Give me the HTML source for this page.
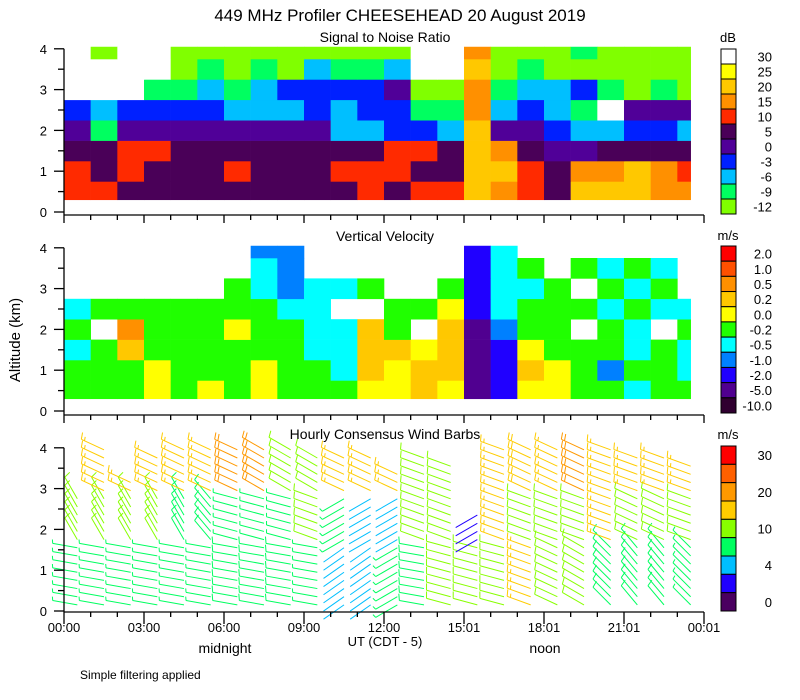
<!DOCTYPE html>
<html><head><meta charset="utf-8"><style>
html,body{margin:0;padding:0;background:#fff;}
svg{display:block;font-family:"Liberation Sans",sans-serif;}
</style></head><body>
<svg id="chart" width="800" height="700" viewBox="0 0 800 700" xmlns="http://www.w3.org/2000/svg">
<rect width="800" height="700" fill="#fff"/>
<text x="400" y="21" font-size="17" text-anchor="middle">449 MHz Profiler CHEESEHEAD 20 August 2019</text>
<text x="385" y="42" font-size="14" text-anchor="middle">Signal to Noise Ratio</text>
<text x="385" y="241" font-size="14" text-anchor="middle">Vertical Velocity</text>
<text x="385" y="439" font-size="14" text-anchor="middle">Hourly Consensus Wind Barbs</text>
<text transform="translate(20,340) rotate(-90)" font-size="15" text-anchor="middle">Altitude (km)</text>
<text x="385" y="646" font-size="13" text-anchor="middle">UT  (CDT - 5)</text>
<text x="225" y="653" font-size="14" text-anchor="middle">midnight</text>
<text x="545" y="653" font-size="14" text-anchor="middle">noon</text>
<text x="80" y="679" font-size="12">Simple filtering applied</text>
<g id="layers"></g>
</svg>
<script>
// ---- data ----
const hours = [0,1,2,3,4,5,6,7,8,9,10,11,12,13,14,15,16,17,18,19,20,21,22,23];
const altBandsLow = [0.3,0.75,1.25,1.75,2.25,2.75,3.25,3.75];
const altBandsHigh = [0.75,1.25,1.75,2.25,2.75,3.25,3.75,4.05];
// SNR color index (0=-12 ... 10=30 dB), rows bottom->top
const snrRow0 = [6,6,5,5,5,5,5,5,5,5,5,6,5,6,6,8,7,6,5,8,8,8,7,7];
const snrRow1 = [6,5,6,5,5,5,6,5,5,5,6,6,6,5,5,8,8,6,5,7,7,8,7,6];
const snrRow2 = [5,5,6,6,5,5,5,5,5,5,5,5,6,6,5,8,7,5,4,4,5,5,5,5];
const snrRow3 = [4,1,4,4,4,4,4,4,4,4,2,2,3,3,2,8,4,4,3,2,2,3,3,2];
const snrRow4 = [3,2,3,3,3,3,2,2,2,3,2,3,3,1,1,7,2,3,2,1,10,4,4,4];
const snrRow5 = [10,10,10,1,1,2,1,2,3,3,3,3,4,0,0,7,1,2,2,3,1,0,1,0];
const snrRow6 = [10,10,10,10,0,1,0,1,0,2,1,1,2,10,10,8,0,1,0,0,0,0,0,0];
const snrRow7 = [10,0,10,10,0,0,0,0,0,0,0,0,0,10,10,7,0,0,0,1,0,0,0,0];
// Vertical velocity index (0=-10 ... 10=2.0 m/s), -1 = no data
const vvRow0 = [5,5,5,6,5,6,5,6,5,5,5,6,6,7,6,1,2,6,6,5,5,4,5,5];
const vvRow1 = [5,5,5,6,5,5,5,6,5,5,4,7,6,7,7,1,2,7,6,5,3,5,5,4];
const vvRow2 = [4,5,7,5,5,5,5,5,5,4,4,7,7,6,7,1,2,6,5,5,5,4,5,4];
const vvRow3 = [5,-1,8,5,5,5,6,5,5,4,4,7,5,-1,7,1,3,5,5,-1,5,4,-1,5];
const vvRow4 = [4,5,5,5,5,5,5,5,4,4,-1,-1,5,5,6,2,4,5,5,5,4,5,4,4];
const vvRow5 = [-1,-1,-1,-1,-1,-1,5,4,3,4,4,5,-1,-1,5,2,4,4,5,-1,5,4,5,-1];
const vvRow6 = [-1,-1,-1,-1,-1,-1,-1,4,3,-1,-1,-1,-1,-1,-1,2,4,5,-1,5,4,5,4,-1];
const vvRow7 = [-1,-1,-1,-1,-1,-1,-1,3,3,-1,-1,-1,-1,-1,-1,2,4,-1,-1,-1,-1,-1,-1,-1];
// Wind (m/s, met deg) by band
const windSpeedLow  = [8,8,8,8,8,8,9,9,9,8,4,4,8,9,11,12,13,16,14,13,9,9,9,8];
const windSpeedMid  = [11,11,11,10,9,9,8,8,8,10,8,4,4,10,12,3,16,12,12,12,16,12,13,12];
const windSpeedHigh = [17,16,16,17,18,17,20,20,12,12,16,17,16,13,13,14,17,19,18,22,17,18,18,17];
const windDirLow  = [280,280,280,280,280,280,280,280,280,280,235,235,240,280,285,285,285,290,295,300,315,320,320,315];
const windDirMid  = [330,330,330,330,330,320,285,285,285,290,240,240,240,290,290,240,290,290,290,290,290,295,295,290];
const windDirHigh = [295,295,295,295,295,295,295,300,300,300,295,295,295,290,290,290,290,295,295,295,290,290,290,290];
const windTop = [2.9,4.0,3.2,3.9,4.0,4.0,4.0,4.0,4.0,3.8,3.8,3.8,3.4,3.9,3.6,2.4,4.0,4.0,4.0,4.0,4.0,3.9,3.9,3.7];
const snrTicks = ["30","25","20","15","10","5","0","-3","-6","-9","-12"];
const vvTicks = ["2.0","1.0","0.5","0.2","0.0","-0.2","-0.5","-1.0","-2.0","-5.0","-10.0"];
const windTicks = ["30","","20","","10","","4","","0"];
const timeLabels = ["00:00","03:00","06:00","09:00","12:00","15:01","18:01","21:01","00:01"];

const snrRows=[snrRow0,snrRow1,snrRow2,snrRow3,snrRow4,snrRow5,snrRow6,snrRow7];
const vvRows=[vvRow0,vvRow1,vvRow2,vvRow3,vvRow4,vvRow5,vvRow6,vvRow7];
const snrColors=["#80ff00","#00ff60","#00bfff","#0020ff","#500098","#4a0058","#ff2a00","#ff9000","#ffc800","#ffff00","#ffffff"];
const vvColors=["#300030","#500090","#2000ff","#0080ff","#00ffff","#20ff00","#ffff00","#ffc800","#ff9000","#ff5000","#ff0000"];
const windColors=["#4a0060","#2000ff","#00bfff","#00ff60","#88ff00","#ffcc00","#ff9900","#ff6000","#ff0000"];

const NS="http://www.w3.org/2000/svg";
const root=document.getElementById('layers');
function mk(tag,attrs,parent){const e=document.createElementNS(NS,tag);for(const k in attrs)e.setAttribute(k,attrs[k]);(parent||root).appendChild(e);return e;}
const X0=64, PXH=640/24, XEND=64+23.5*PXH;
function xScale(h){return X0+h*PXH;}
const panels=[{base:212,axis:215},{base:411,axis:415},{base:611,axis:612}];
function yScale(p,a){return panels[p].base-a*40.8;}

function heat(p,rows,colors,name){
  const g=mk('g',{});
  
  
  rows.forEach((row,ri)=>{
    row.forEach((v,hi)=>{
      if(v<0)return;
      const x1=xScale(hours[hi]), x2=Math.min(xScale(hours[hi]+1),XEND);
      const y1=Math.max(yScale(p,altBandsHigh[ri]),yScale(p,4.05)), y2=yScale(p,altBandsLow[ri]);
      const r=mk('rect',{x:x1,y:y1,width:x2-x1+0.3,height:y2-y1+0.3,fill:colors[v]},g);
      
      
    });
  });
}
heat(0,snrRows,snrColors,'snr-heatmap');
heat(1,vvRows,vvColors,'vv-heatmap');

function windColor(s){const b=[2,4,7,10,15,20,25,30];let i=0;while(i<b.length&&s>=b[i])i++;return windColors[i];}
const wg=mk('g',{});


hours.forEach((h,hi)=>{
  for(let a=0.15;a<=windTop[hi]+0.001;a+=0.2){
    let s,d;
    if(a<1.6){s=windSpeedLow[hi];d=windDirLow[hi];}
    else if(a<2.8){s=windSpeedMid[hi];d=windDirMid[hi];}
    else {s=windSpeedHigh[hi];d=windDirHigh[hi];}
    const sx=xScale(h+0.5), sy=yScale(2,a);
    const t=d*Math.PI/180, ux=Math.sin(t), uy=-Math.cos(t), L=25;
    const ex=sx+ux*L, ey=sy+uy*L;
    const c=windColor(s);
    let p=`M${sx},${sy}L${ex},${ey}`;
    let rem=s, k=0;
    while(rem>=4.5&&k<4){
      const full=rem>=9;
      const bl=full?7:4;
      const bx=ex-ux*k*3.5, by=ey-uy*k*3.5;
      p+=`M${bx},${by}l${(-uy*0.95+ux*0.25)*bl},${(ux*0.95+uy*0.25)*bl}`;
      rem-=full?10:5;k++;
    }
    const e=mk('path',{d:p,stroke:c,'stroke-width':1,fill:'none'},wg);
    
    
  }
});

// axes
for(let p=0;p<3;p++){
  const g=mk('g',{stroke:'#000','stroke-width':1.3,fill:'none'});
  
  
  const top=yScale(p,4), ay=panels[p].axis;
  mk('line',{x1:X0,y1:top,x2:X0,y2:ay},g);
  mk('line',{x1:X0,y1:ay,x2:xScale(24),y2:ay},g);
  for(let a=0;a<=4;a+=0.5){
    const y=yScale(p,a), maj=(a%1===0);
    mk('line',{x1:X0-(maj?10:6),y1:y,x2:X0,y2:y},g);
    if(maj){const t=mk('text',{x:X0-17,y:y+5,'font-size':13,'text-anchor':'end',fill:'#000',stroke:'none'},g);t.textContent=a;
      
      }
  }
  for(let h=0;h<=24;h++){
    const x=xScale(h), maj=(h%3===0);
    mk('line',{x1:x,y1:ay,x2:x,y2:ay+(maj?(p===2?12:8):5)},g);
  }
}
timeLabels.forEach((lab,i)=>{
  const t=mk('text',{x:xScale(i*3),y:632,'font-size':13,'text-anchor':'middle'});
  t.textContent=lab;
  
  
});

function colorbar(top,bottom,colors,labels,unit,unitY,name){
  const g=mk('g',{});
  
  
  const n=colors.length, h=(bottom-top)/n;
  for(let i=0;i<n;i++){
    mk('rect',{x:721,y:top+i*h,width:15,height:h,fill:colors[n-1-i],stroke:'#000','stroke-width':1},g);
    const lab=labels[i];
    if(lab){const t=mk('text',{x:772,y:top+i*h+h/2+5,'font-size':13,'text-anchor':'end'},g);t.textContent=lab;
      
      }
  }
  const u=mk('text',{x:728,y:unitY,'font-size':13,'text-anchor':'middle'},g);u.textContent=unit;
  
  
}
colorbar(49,214,snrColors,snrTicks,'dB',42,'snr-colorbar');
colorbar(246,413,vvColors,vvTicks,'m/s',240,'vv-colorbar');
colorbar(446,611,windColors,windTicks,'m/s',439,'wind-colorbar');
</script>
</body></html>
